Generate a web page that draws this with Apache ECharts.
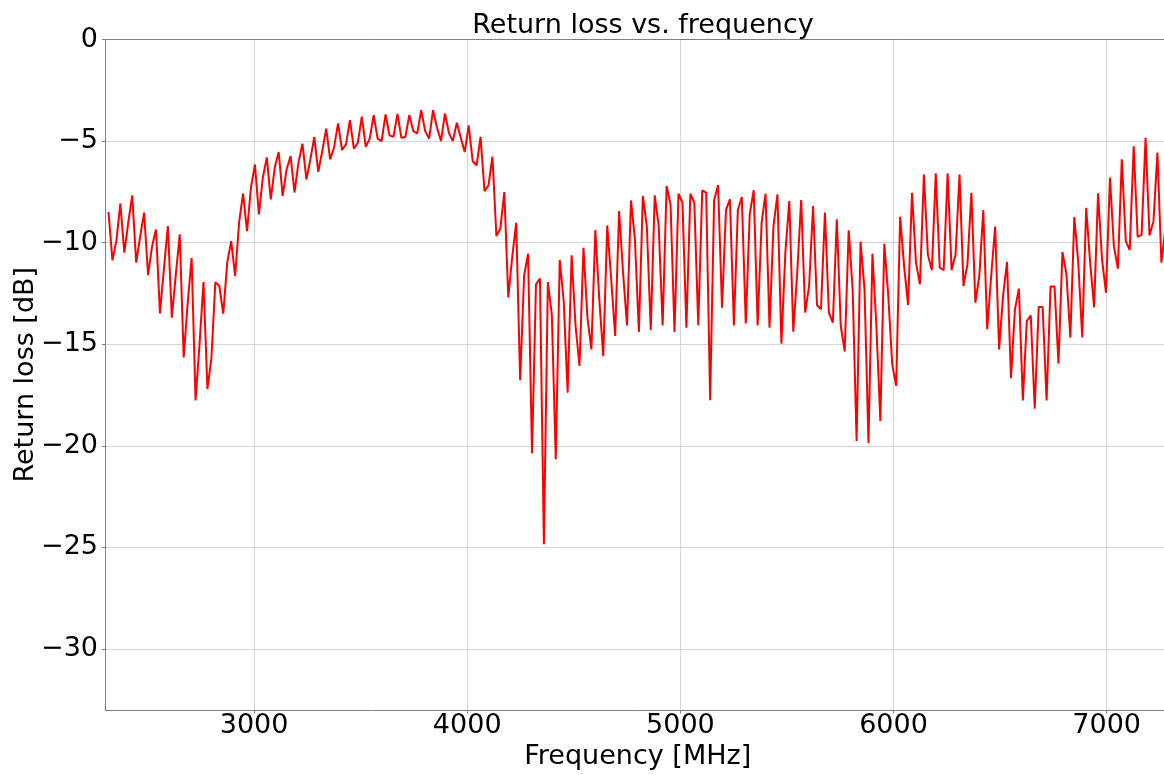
<!DOCTYPE html>
<html>
<head>
<meta charset="utf-8">
<script src="https://cdn.jsdelivr.net/npm/echarts@6/dist/echarts.min.js"></script>
<style>
html,body{margin:0;padding:0;overflow:hidden;background:#fff;}
#chart{width:1170px;height:775px;}
</style>
</head>
<body>
<div id="chart"></div>
<script>
// Frequency sampling grid (MHz): first sample and spacing
const FREQ_START = 2317;
const FREQ_STEP = 18.57;

// Return loss values [dB]
const returnLoss = [
  -8.49,-10.87,-9.9,-8.07,-10.49,-9.0,-7.67,-10.98,-9.7,-8.52,
  -11.6,-10.2,-9.35,-13.48,-11.3,-9.18,-13.69,-11.6,-9.59,-15.65,
  -13.0,-10.76,-17.76,-15.0,-11.94,-17.2,-15.7,-11.94,-12.13,-13.5,
  -10.98,-9.92,-11.64,-9.0,-7.59,-9.43,-7.28,-6.15,-8.61,-6.79,
  -5.8,-7.87,-6.3,-5.54,-7.7,-6.4,-5.74,-7.53,-6.05,-5.13,
  -6.89,-5.9,-4.8,-6.51,-5.5,-4.39,-5.9,-5.3,-4.13,-5.44,
  -5.16,-3.97,-5.38,-5.08,-3.8,-5.28,-4.88,-3.72,-4.88,-5.0,
  -3.69,-4.72,-4.79,-3.66,-4.84,-4.8,-3.72,-4.51,-4.62,-3.48,
  -4.51,-4.88,-3.48,-4.34,-5.0,-3.64,-4.59,-5.0,-4.1,-4.84,
  -5.54,-4.23,-5.98,-6.2,-4.79,-7.46,-7.18,-5.77,-9.67,-9.31,
  -7.51,-12.69,-10.7,-9.02,-16.77,-11.64,-10.54,-20.36,-12.05,-11.76,
  -24.84,-11.94,-13.53,-20.66,-10.85,-12.87,-17.38,-10.62,-14.1,-16.07,
  -10.25,-13.69,-15.25,-9.38,-12.8,-15.58,-9.15,-11.8,-14.59,-8.44,
  -11.48,-14.07,-7.92,-9.84,-14.4,-7.7,-9.18,-14.3,-7.67,-9.18,
  -14.07,-7.21,-8.12,-14.4,-7.59,-8.03,-14.18,-7.59,-8.03,-14.07,
  -7.43,-7.54,-17.76,-7.92,-7.16,-13.2,-8.39,-7.87,-14.07,-8.39,
  -7.75,-13.97,-8.61,-7.41,-14.07,-9.02,-7.59,-14.18,-9.18,-7.62,
  -14.97,-10.49,-7.95,-14.38,-11.48,-7.9,-13.44,-12.13,-8.2,-13.08,
  -13.28,-8.52,-13.44,-13.94,-8.85,-14.1,-15.36,-9.39,-12.3,-19.76,
  -9.95,-12.3,-19.87,-10.54,-14.1,-18.77,-10.05,-12.62,-15.99,-17.05,
  -8.72,-11.15,-13.07,-7.54,-10.98,-12.05,-6.64,-10.58,-11.35,-6.59,
  -11.23,-11.35,-6.59,-11.35,-10.58,-6.64,-12.13,-11.07,-7.54,-12.95,
  -11.64,-8.39,-14.26,-11.64,-9.21,-15.25,-12.62,-10.95,-16.67,-13.28,
  -12.26,-17.76,-13.86,-13.58,-18.17,-13.17,-13.17,-17.76,-12.16,-12.16,
  -15.95,-10.46,-11.53,-14.67,-8.74,-10.98,-14.67,-8.28,-10.98,-13.17,
  -7.57,-10.82,-12.46,-6.8,-10.17,-11.28,-5.9,-9.92,-10.36,-5.25,
  -9.71,-9.62,-4.84,-9.64,-8.94,-5.57,-10.98,-9.3,-8.5
];

const xTicks = [3000, 4000, 5000, 6000, 7000];
const yTicks = [-30, -25, -20, -15, -10, -5, 0];
const X_MIN = 2303, X_MAX = 7297, Y_MIN = -33, Y_MAX = 0;

const frequencies = returnLoss.map((_, i) => FREQ_START + FREQ_STEP * i);
const seriesData = returnLoss.map((v, i) => [frequencies[i], v]);

const FONT = 'DejaVu Sans';
const fmtMinus = v => String(v).replace('-', '\u2212');

const chart = echarts.init(document.getElementById('chart'), null, {renderer: 'canvas'});
chart.setOption({
  animation: false,
  backgroundColor: '#ffffff',
  title: {
    text: 'Return loss vs. frequency',
    left: 638,
    textAlign: 'center',
    top: 7,
    textStyle: {fontFamily: FONT, fontSize: 27, fontWeight: 'normal', color: '#000'}
  },
  grid: {left: 105.5, right: 0, top: 39.5, bottom: 65, containLabel: false, outerBoundsMode: 'none'},
  xAxis: {
    type: 'value',
    min: X_MIN, max: X_MAX,
    name: 'Frequency [MHz]',
    nameLocation: 'middle',
    nameGap: 30,
    nameTextStyle: {fontFamily: FONT, fontSize: 27, color: '#000'},
    axisLine: {show: true, onZero: false, lineStyle: {color: '#808080', width: 1}},
    axisTick: {show: true, inside: false, length: 3.5, customValues: xTicks, lineStyle: {color: '#808080', width: 1}},
    axisLabel: {customValues: xTicks, margin: 2, fontFamily: FONT, fontSize: 27, color: '#000', formatter: fmtMinus},
    splitLine: {show: true, lineStyle: {color: '#cccccc', width: 0.8}}
  },
  yAxis: {
    type: 'value',
    min: Y_MIN, max: Y_MAX,
    name: 'Return loss [dB]',
    nameLocation: 'middle',
    nameGap: 66,
    nameRotate: 90,
    nameMoveOverlap: false,
    nameTextStyle: {fontFamily: FONT, fontSize: 27, color: '#000'},
    axisLine: {show: true, onZero: false, lineStyle: {color: '#808080', width: 1}},
    axisTick: {show: true, inside: false, length: 3.5, customValues: yTicks, lineStyle: {color: '#808080', width: 1}},
    axisLabel: {customValues: yTicks, margin: 7.5, fontFamily: FONT, fontSize: 27, color: '#000', formatter: fmtMinus},
    splitLine: {show: true, lineStyle: {color: '#cccccc', width: 0.8}}
  },
  series: [{
    type: 'line',
    data: seriesData,
    showSymbol: false,
    symbol: 'none',
    clip: true,
    lineStyle: {color: '#ff0000', width: 2},
    itemStyle: {color: '#ff0000'}
  }, {
    // top spine of the axes box
    type: 'line',
    data: [[X_MIN, Y_MAX], [X_MAX, Y_MAX]],
    symbol: 'none',
    silent: true,
    lineStyle: {color: '#808080', width: 1}
  }]
});
</script>
</body>
</html>
